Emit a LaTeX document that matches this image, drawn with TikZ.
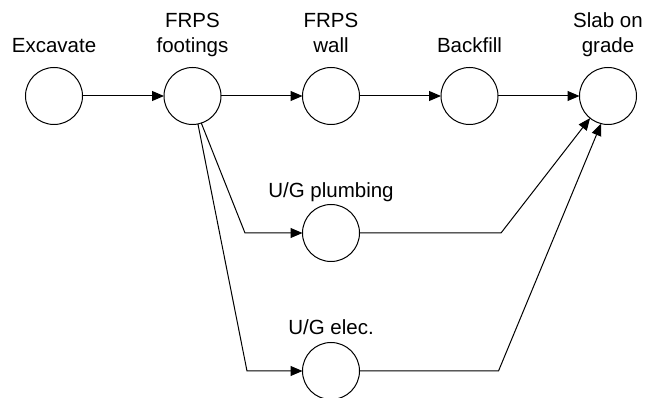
\documentclass[tikz,border=0pt]{standalone}
\usepackage{fontspec}
\setmainfont{Liberation Sans}
\usepackage{tikz}
\usetikzlibrary{positioning,arrows.meta}

\begin{document}
\begin{tikzpicture}[x=1pt,y=1pt,
    ev/.style={draw, circle, line width=1pt, minimum size=57pt, inner sep=0pt, outer sep=0pt},
    lbl/.style={align=center, inner sep=0pt, text depth=0pt, font=\fontsize{20.5}{25}\selectfont},
    act/.style={line width=1pt, -{Triangle[length=12pt,width=10pt]}}]
    \useasboundingbox (0,0) rectangle (649,-398);

    \node[ev] (exc) at (54,-96) {};
    \node[ev, right=81.5 of exc] (foot) {};
    \node[ev, right=81.5 of foot] (wall) {};
    \node[ev, right=81.5 of wall] (back) {};
    \node[ev, right=81.5 of back] (slab) {};
    \node[ev, below=80 of wall] (plumb) {};
    \node[ev, below=81 of plumb] (elec) {};

    \node[lbl, above=14.5 of exc] {Excavate};
    \node[lbl, above=14.5 of foot] {FRPS\\footings};
    \node[lbl, above=14.5 of wall] {FRPS\\wall};
    \node[lbl, above=14.5 of back] {Backfill};
    \node[lbl, above=14.5 of slab] {Slab on\\grade};
    \node[lbl, above=6.5 of plumb] {U/G plumbing};
    \node[lbl, above=7.5 of elec] {U/G elec.};

    \coordinate[left=57.5 of plumb.west] (pin);
    \coordinate[left=55.5 of elec.west] (ein);
    \coordinate[right=141.5 of plumb.east] (pout);
    \coordinate[right=139 of elec.east] (eout);

    \draw[act] (exc) -- (foot);
    \draw[act] (foot) -- (wall);
    \draw[act] (wall) -- (back);
    \draw[act] (back) -- (slab);
    \draw[act] (foot.-72) -- (pin) -- (plumb.west);
    \draw[act] (foot.-79) -- (ein) -- (elec.west);
    \draw[act] (plumb.east) -- (pout) -- (slab.-129);
    \draw[act] (elec.east) -- (eout) -- (slab.-104);
\end{tikzpicture}
\end{document}
